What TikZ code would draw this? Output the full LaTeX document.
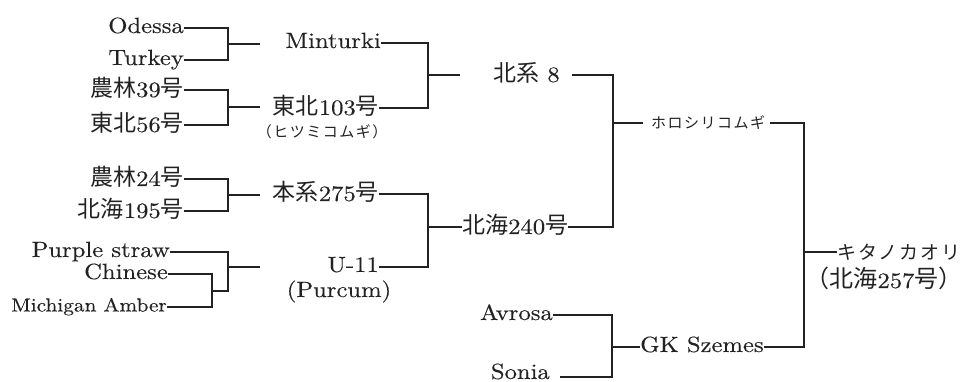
\documentclass[tikz,border=0pt]{standalone}
\usepackage{fontspec}
\setmainfont{lmroman10-regular}[Extension=.otf, FakeStretch=1.12, FakeBold=0.3]
\newfontfamily\cjk{Noto Sans CJK JP}[Kerning=Off]
\newfontfamily\kanafont{Noto Sans CJK JP}[Kerning=Off, LetterSpace=10]
\newcommand{\jp}[1]{{\cjk\fontsize{23}{26}\selectfont #1}}
\definecolor{ink}{HTML}{222222}
\tikzset{
  lbl/.style={inner sep=0pt, text=ink, font=\fontsize{22}{26}\selectfont, text height=16pt, text depth=6pt},
  jl/.style={inner sep=0pt, text=ink, font=\fontsize{22}{26}\selectfont, text height=18pt, text depth=4pt},
  smalllbl/.style={inner sep=0pt, text=ink, font=\fontsize{19}{22}\selectfont, text height=14pt, text depth=5pt},
  kana/.style={inner sep=0pt, text=ink, font=\kanafont\fontsize{#1}{#1}\selectfont},
  wire/.style={draw=ink, line width=1.3pt}
}
\begin{document}
\begin{tikzpicture}[x=1pt, y=-1pt]
\useasboundingbox (0,0) rectangle (962,382);

% ---------- left column ----------
\node[lbl, anchor=east] (odessa) at (184,28) {Odessa};
\node[lbl, anchor=east] (turkey) at (184,60) {Turkey};
\node[jl, anchor=east] (n39) at (184,90) {\jp{農林}39\jp{号}};
\node[jl, anchor=east] (t56) at (184,125) {\jp{東北}56\jp{号}};
\node[jl, anchor=east] (n24) at (184,179) {\jp{農林}24\jp{号}};
\node[jl, anchor=east] (h195) at (184,211) {\jp{北海}195\jp{号}};
\node[lbl, anchor=east] (purple) at (170,252) {Purple straw};
\node[lbl, anchor=east] (chinese) at (168,274) {Chinese};
\node[smalllbl, anchor=east] (mich) at (167,307) {Michigan Amber};

\coordinate (j1) at (228,44);  \coordinate (j1e) at (260,44);
\coordinate (j2) at (228,107); \coordinate (j2e) at (260,107);
\coordinate (j3) at (228,195); \coordinate (j3e) at (260,195);
\coordinate (j4) at (212,291);
\coordinate (j5) at (228,267); \coordinate (j5e) at (260,267);
\coordinate (j4e) at (228,291);

\draw[wire] (odessa.east) -| (j1) |- (turkey.east);
\draw[wire] (j1) -- (j1e);
\draw[wire] (n39.east) -| (j2) |- (t56.east);
\draw[wire] (j2) -- (j2e);
\draw[wire] (n24.east) -| (j3) |- (h195.east);
\draw[wire] (j3) -- (j3e);
\draw[wire] (chinese.east) -| (j4) |- (mich.east);
\draw[wire] (purple.east) -| (j5) -- (j4e) -- (j4);
\draw[wire] (j5) -- (j5e);

% ---------- second column ----------
\node[lbl, anchor=east] (mint) at (381,43) {Minturki};
\node[jl, anchor=east] (t103) at (379,108) {\jp{東北}103\jp{号}};
\node[kana=15] (hitsumi) at (322,132) {（ヒツミコムギ）};
\node[jl, anchor=east] (h275) at (379,194) {\jp{本系}275\jp{号}};
\node[lbl, anchor=east] (u11) at (379,267) {U-11};
\node[lbl] (purcum) at (339,292) {(Purcum)};

\coordinate (k1) at (428,75); \coordinate (k1e) at (460,75);
\coordinate (k2) at (428,227);
\draw[wire] (mint.east) -| (k1) |- (t103.east);
\draw[wire] (k1) -- (k1e);

% ---------- third column ----------
\node[jl, anchor=west] (h240) at (462,227) {\jp{北海}240\jp{号}};
\draw[wire] (h275.east) -| (k2) |- (u11.east);
\draw[wire] (k2) -- (h240.west);

\node[jl, anchor=west] (hokkei) at (493,75) {\jp{北系} 8};
\coordinate (hk) at (572,75);
\coordinate (l1) at (613,123); \coordinate (l1e) at (643,123);
\draw[wire] (hk) -| (l1) |- (h240.east);
\draw[wire] (l1) -- (l1e);

\node[kana=15, anchor=west] (horo) at (651,123) {ホロシリコムギ};
\coordinate (hr) at (770,123);

\node[lbl, anchor=east] (avrosa) at (553,315) {Avrosa};
\node[lbl, anchor=base east] (sonia) at (550,379) {Sonia};
\coordinate (so) at (560,377);
\coordinate (m1) at (612,347);
\node[lbl, anchor=west] (gk) at (640,347) {GK Szemes};
\draw[wire] (avrosa.east) -| (m1) |- (so);
\draw[wire] (m1) -- (gk.west);

% ---------- final ----------
\coordinate (n1) at (804,252);
\node[kana=19, anchor=west] (kita) at (837,252) {キタノカオリ};
\node[jl] (h257) at (884,281) {{\cjk\fontsize{24}{26}\selectfont （北海}257{\cjk\fontsize{24}{26}\selectfont 号）}};
\draw[wire] (hr) -| (n1) |- (gk.east);
\draw[wire] (n1) -- (kita.west);
\end{tikzpicture}
\end{document}
